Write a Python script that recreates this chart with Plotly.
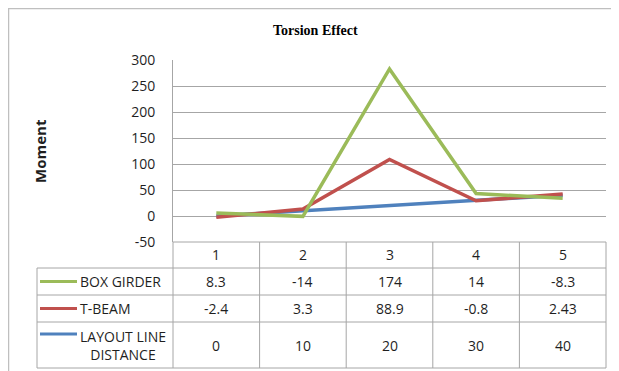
import plotly.graph_objects as go

W, H = 619, 371

categories = [1, 2, 3, 4, 5]
series_names = ["LAYOUT LINE<br>DISTANCE", "T-BEAM", "BOX GIRDER"]
layout_line = [0, 10, 20, 30, 40]
t_beam = [-2.4, 3.3, 88.9, -0.8, 2.43]
box_girder = [8.3, -14, 174, 14, -8.3]
colors = ["#4F81BD", "#C0504D", "#9BBB59"]
y_ticks = [-50, 0, 50, 100, 150, 200, 250, 300]
y_tick_text = ["-50", "0", "50", "100", "150", "200", "250", "300"]

OFF = 8  # page body margin

def px(x):
    return (x - OFF) / W

def py(y):
    return 1 - (y - OFF) / H

FONT = "Open Sans"
GRID = "#A6A6A6"
TXT = "#1f1f1f"

fig = go.Figure()
for name, vals, col in zip(series_names, [layout_line, t_beam, box_girder], colors):
    fig.add_trace(go.Scatter(
        x=categories, y=vals, name=name, stackgroup="s", fill="none",
        mode="lines", line=dict(color=col, width=3.5), showlegend=False,
        hoverinfo="skip"))

# plot area pixels
L, R, T, B = 173, 606, 60, 242

fig.update_layout(
    width=W, height=H,
    margin=dict(l=0, r=0, t=0, b=0),
    paper_bgcolor="white", plot_bgcolor="white",
    xaxis=dict(domain=[px(L), px(R)], range=[0.5, 5.5], showgrid=False,
               zeroline=False, showticklabels=False, showline=False,
               fixedrange=True, automargin=False),
    yaxis=dict(domain=[py(B), py(T)], range=[-50, 300], tickvals=y_ticks,
               ticktext=y_tick_text,
               showgrid=True, gridcolor=GRID, gridwidth=1, zeroline=False,
               showline=True, linecolor=GRID, linewidth=1,
               ticks="", ticklabelstandoff=14, automargin=False,
               tickfont=dict(family=FONT, size=14, color=TXT), fixedrange=True),
    showlegend=False,
)

shapes = []
def hline(y, x0, x1):
    shapes.append(dict(type="line", xref="paper", yref="paper",
                       x0=px(x0), x1=px(x1), y0=py(y), y1=py(y),
                       line=dict(color=GRID, width=1)))
def vline(x, y0, y1):
    shapes.append(dict(type="line", xref="paper", yref="paper",
                       x0=px(x), x1=px(x), y0=py(y0), y1=py(y1),
                       line=dict(color=GRID, width=1)))

# outer chart border
shapes.append(dict(type="rect", xref="paper", yref="paper",
                   x0=px(8.5), x1=px(640), y0=py(8.5), y1=py(400),
                   line=dict(color="#BFBFBF", width=1.5)))

rows_y = [242, 268, 295, 322, 368]
TL = 37
hline(242, L, R)
for y in rows_y[1:]:
    hline(y, TL, R)
vline(TL, 268, 368)
vline(L, 242, 368)
col_w = (R - L) / len(categories)
for i in range(1, len(categories)):
    vline(L + i * col_w, 242, 368)
vline(R, 242, 368)

annotations = []
def ann(text, x, y, xref="paper", size=14, family=FONT, xanchor="center", **kw):
    annotations.append(dict(text=text, x=x, y=y, xref=xref, yref="paper",
                            showarrow=False, xanchor=xanchor, yanchor="middle",
                            font=dict(family=family, size=size, color=kw.pop("color", TXT)),
                            **kw))

# title
ann("<b>Torsion Effect</b>", px(315), py(30), family="Liberation Serif", size=14, color="black")
# y title
ann("<b>Moment</b>", px(40), py(151), size=15, textangle=-90)

# header row with categories
for c in categories:
    ann(str(c), c, py(255), xref="x")

# data rows: in table order box, t-beam, layout
table_rows = [("BOX GIRDER", box_girder, colors[2], 281.5),
              ("T-BEAM", t_beam, colors[1], 308.5),
              ("LAYOUT LINE<br>DISTANCE", layout_line, colors[0], 345)]
for label, vals, col, yc in table_rows:
    for c, v in zip(categories, vals):
        ann(f"{v:g}", c, py(yc), xref="x")
    ly = yc if "<br>" not in label else 334
    shapes.append(dict(type="line", xref="paper", yref="paper",
                       x0=px(40), x1=px(77), y0=py(ly), y1=py(ly),
                       line=dict(color=col, width=3)))
    if "<br>" in label:
        ann(label, px(123), py(yc), align="center")
    else:
        ann(label, px(78), py(yc), xanchor="left")

fig.update_layout(shapes=shapes, annotations=annotations)
fig.write_html("out.html")
